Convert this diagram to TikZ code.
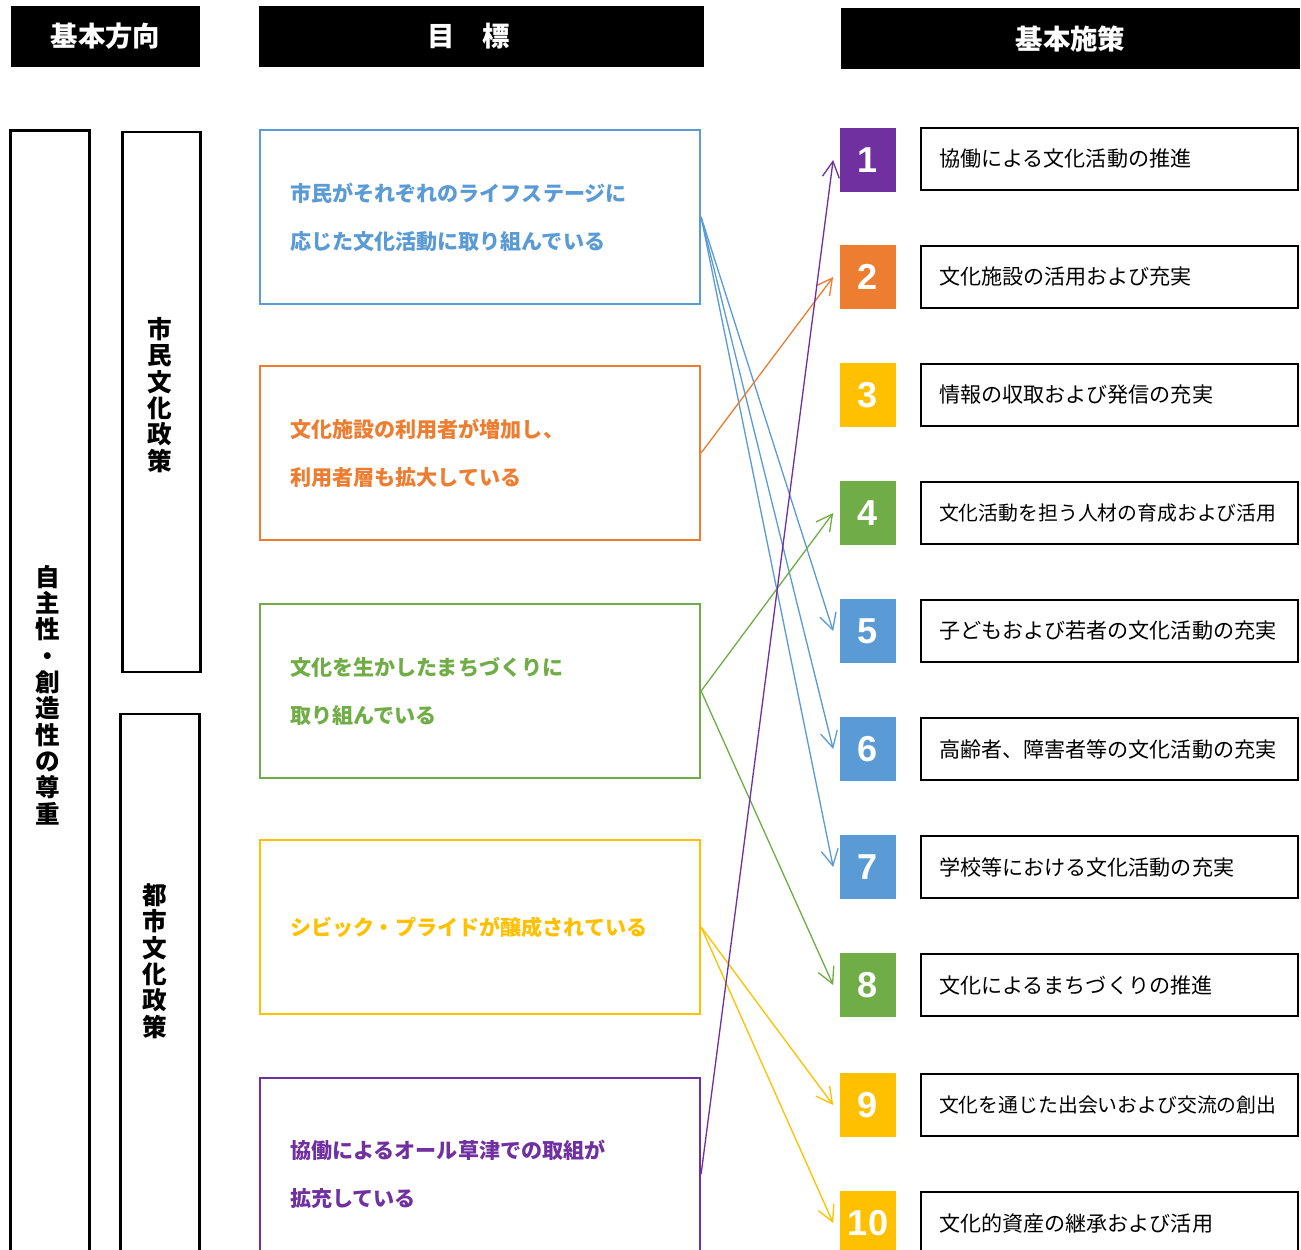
\documentclass[tikz,border=0pt]{standalone}
\usepackage{fontspec}
\setmainfont{Noto Sans CJK JP}
\newfontfamily\numfont{Liberation Sans}
\usetikzlibrary{
    positioning,
    arrows.meta
    }

\definecolor{cblue}{HTML}{5B9BD5}
\definecolor{corange}{HTML}{ED7D31}
\definecolor{cgreen}{HTML}{70AD47}
\definecolor{cyellow}{HTML}{FFC000}
\definecolor{cpurple}{HTML}{7030A0}

\begin{document}
\begin{tikzpicture}[x=0.02cm, y=-0.02cm]
% chktex-file 1
\tikzset{header/.style =
        {
            rectangle,
            fill=black,
            text=white,
            inner sep=0cm,
            minimum height=1.22cm,
            font=\fontsize{15.6}{18}\selectfont\bfseries
        }
}

\tikzset{pillar/.style =
        {
            rectangle,
            draw=black,
            line width=1.6pt,
            minimum width=1.57cm,
            inner sep=0cm
        }
}

\tikzset{vtext/.style =
        {
            align=center,
            inner sep=0cm,
            font=\fontsize{14}{15}\selectfont\bfseries
        }
}

\tikzset{goal/.style =
        {
            rectangle,
            line width=1.3pt,
            minimum width=8.8cm,
            minimum height=3.48cm,
            text width=7.6cm,
            align=left,
            inner sep=0cm,
            font=\fontsize{12}{27.3}\selectfont\bfseries
        }
}

\tikzset{numbox/.style =
        {
            rectangle,
            minimum width=1.12cm,
            minimum height=1.28cm,
            inner sep=0cm,
            text=white,
            font=\numfont\fontsize{20.5}{22}\selectfont\bfseries
        }
}

\tikzset{policy/.style =
        {
            rectangle,
            draw=black,
            line width=1.5pt,
            minimum width=7.54cm,
            minimum height=1.24cm,
            text width=6.82cm,
            align=left,
            inner sep=0cm,
            font=\fontsize{12}{14}\selectfont
        }
}

\tikzset{link/.style = {
            line width=0.75pt,
            -{Straight Barb[length=3.2mm, width=3.4mm]}
        }
}

\useasboundingbox (0,0) rectangle (1301,1249);
\clip (0,0) rectangle (1301,1249);

\node[header, minimum width=3.78cm] (head-dir) at (105.5,36.5) {基本方向};
\node[header, minimum width=8.9cm] (head-goal) at (481.5,36.5) {目　標\hspace*{0.5cm}};
\node[header, minimum width=9.18cm] (head-plan) at (1070.5,38.5) {基本施策};

\node[pillar, minimum height=22.8cm] (base) at (50,700) {};
\node[vtext] (base-text) at (48,695) {自\\主\\性\\・\\創\\造\\性\\の\\尊\\重};
\node[pillar, minimum height=10.8cm] (civic) at (161.5,402) {};
\node[vtext] (civic-text) at (160,395) {市\\民\\文\\化\\政\\策};
\node[pillar, minimum height=11.12cm] (urban) at (160,992) {};
\node[vtext] (urban-text) at (155,961) {都\\市\\文\\化\\政\\策};

\node[goal, draw=cblue, text=cblue] (g1) at (480,217)
    {市民がそれぞれのライフステージに\\応じた文化活動に取り組んでいる};
\node[goal, draw=corange, text=corange] (g2) at (480,453)
    {文化施設の利用者が増加し、\\利用者層も拡大している};
\node[goal, draw=cgreen, text=cgreen] (g3) at (480,691)
    {文化を生かしたまちづくりに\\取り組んでいる};
\node[goal, draw=cyellow, text=cyellow] (g4) at (480,927)
    {シビック・プライドが醸成されている};
\node[goal, draw=cpurple, text=cpurple, minimum height=3.84cm] (g5) at (480,1174)
    {協働によるオール草津での取組が\\拡充している};

\foreach \n / \y / \c in
    {1/160/cpurple,
        2/277/corange,
        3/395/cyellow,
        4/513/cgreen,
        5/631/cblue,
        6/749/cblue,
        7/867/cblue,
        8/985/cgreen,
        9/1105/cyellow,
        10/1223/cyellow}
\node[numbox, fill=\c] at (868,\y) (n\n) {\n};

\foreach \n / \y / \txt in
    {1/159/協働による文化活動の推進,
        2/277/文化施設の活用および充実,
        3/395/情報の収取および発信の充実,
        4/513/{\fontsize{11.3}{14}\selectfont 文化活動を担う人材の育成および活用},
        5/631/子どもおよび若者の文化活動の充実,
        6/749/高齢者、障害者等の文化活動の充実,
        7/867/学校等における文化活動の充実,
        8/985/文化によるまちづくりの推進,
        9/1105/{\fontsize{11.3}{14}\selectfont 文化を通じた出会いおよび交流の創出},
        10/1223/文化的資産の継承および活用}
\node[policy] at (1109.5,\y) (p\n) {\txt};

\foreach \start / \finish / \c in
    {g1/n5/cblue,
        g1/n6/cblue,
        g1/n7/cblue,
        g2/n2/corange,
        g3/n4/cgreen,
        g3/n8/cgreen,
        g4/n9/cyellow,
        g4/n10/cyellow,
        g5/n1/cpurple}
    {
        \draw [link, \c] (\start.east) -- ([xshift=-0.13cm]\finish.west);
    }

\end{tikzpicture}
\end{document}
